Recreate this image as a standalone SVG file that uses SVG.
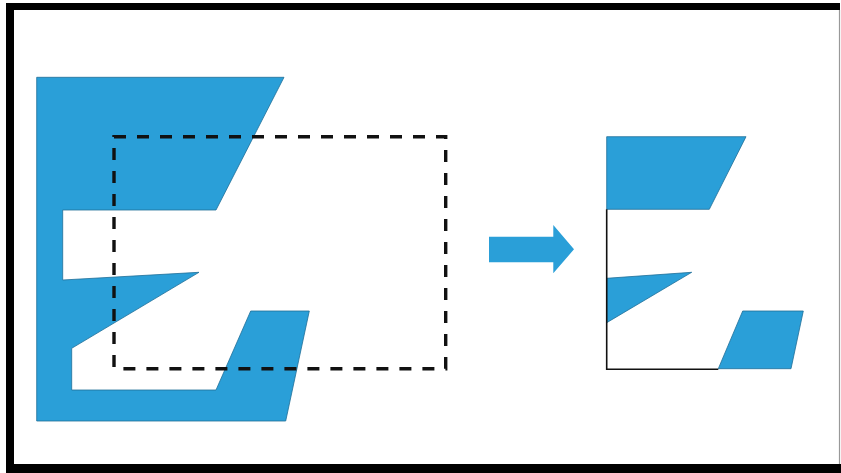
<svg xmlns="http://www.w3.org/2000/svg" width="841" height="473" viewBox="0 0 841 473">
<style>
.blue{fill:#2a9fd8;stroke:#1f6f98;stroke-width:0.8;stroke-linejoin:miter}
.dash{fill:none;stroke:#111;stroke-width:3.4;stroke-dasharray:12 11}
.edge{fill:none;stroke:#111;stroke-width:1.6}
</style>
<rect width="841" height="473" fill="#fff"/>
<g id="frame">
<rect x="6" y="3" width="834" height="7" fill="#000"/>
<rect x="6" y="3" width="8" height="470" fill="#000"/>
<rect x="6" y="464" width="835" height="9" fill="#000"/>
<line x1="839.5" y1="10" x2="839.5" y2="464" stroke="#999" stroke-width="1.2"/>
</g>
<g id="source-shape">
<polygon class="blue" points="36.7,77.3 284,77.3 216,210 62.7,210 62.7,280 199,272.3 71.7,348.3 71.7,390 216,390 250.7,311 309.3,311 285.7,421 36.7,421"/>
</g>
<g id="clip-window">
<rect class="dash" x="114" y="136.7" width="331.7" height="232"/>
</g>
<g id="arrow">
<polygon fill="#2a9fd8" points="489,236.7 553.3,236.7 553.3,225 574,249.3 553.3,273.3 553.3,262.3 489,262.3"/>
</g>
<g id="result-shape">
<polygon class="blue" points="606.7,136.7 746,136.7 709.3,209.3 606.7,209.3"/>
<polygon class="blue" points="606.7,278.3 691.7,272.3 606.7,322.7"/>
<polygon class="blue" points="718.3,368.7 742.7,311 803.3,311 791,368.7"/>
<polyline class="edge" points="606.7,209.3 606.7,369.3 718.3,369.3"/>
</g>
</svg>
